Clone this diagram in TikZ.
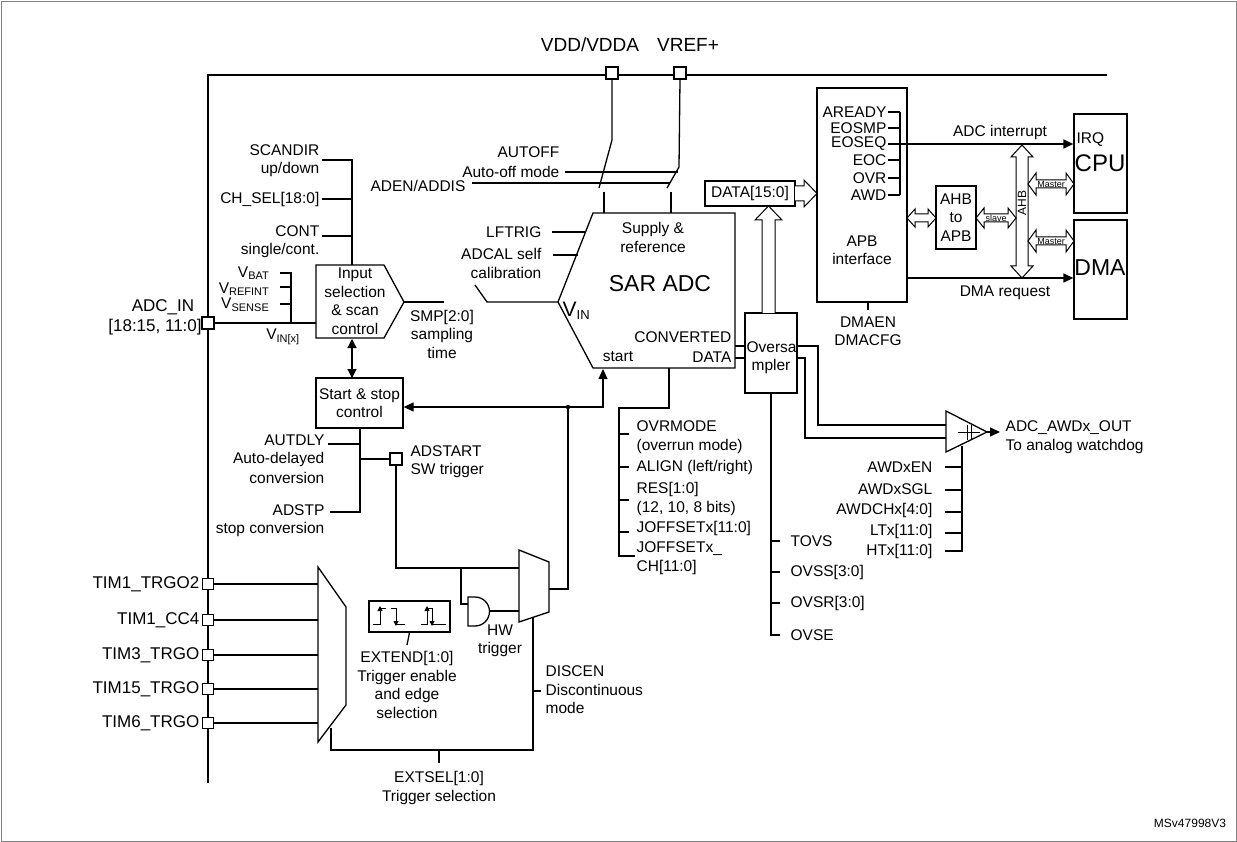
\documentclass[tikz,border=0pt]{standalone}
\usepackage{fontspec}
\setmainfont{Liberation Sans}
\usetikzlibrary{arrows.meta}
\begin{document}
\begin{tikzpicture}[x=1pt,y=-1pt,line width=1.3pt,
  t/.style={font=\fontsize{15.5}{18.5}\selectfont,inner sep=0pt,align=center},
  tl/.style={t,anchor=west,align=left},
  tr/.style={t,anchor=east,align=right},
  pad/.style={draw,fill=white,minimum size=12pt,inner sep=0pt},
  bus/.style={line width=2.6pt},
  arr/.style={-{Triangle[length=10pt,width=9pt]}},
  hol/.style={draw,fill=white,line width=1pt}]
\useasboundingbox (0,0) rectangle (1237,842);
\draw[line width=0.8pt,gray] (1,1) rectangle (1236,841);
% buses
\draw[bus] (208,783) -- (208,75) -- (1107,75);
\node[pad] (pvdd) at (612,73) {};
\node[pad] (pvref) at (680,73) {};
\node[t,font=\fontsize{19}{21}\selectfont] (lvdd) at (590,45) {VDD/VDDA};
\node[t,font=\fontsize{19}{21}\selectfont] (lvref) at (688,45) {VREF+};
% supply switches
\draw (pvdd.south) -- (612,140) -- (599,188);
\draw (604,192) -- (604,213);
\draw (pvref.south) -- (679,167) -- (667,188);
\draw (671,192) -- (671,213);
\draw (565,172) -- (678,172);
\draw (472,183) -- (670,183);
\node[tr] (autoff) at (560,152) {AUTOFF};
\node[tr] (autoffm) at (560,172) {Auto-off mode};
\node[tr] (aden) at (466,186) {ADEN/ADDIS};
% SAR ADC
\draw (593,213) -- (735,213) -- (735,368) -- (593,368) -- (558,302) -- cycle;
\node[t] (sup) at (653,229) {Supply \&};
\node[t] (ref) at (653,247) {reference};
\node[t,font=\fontsize{23}{25}\selectfont] (sar) at (660,284) {SAR ADC};
\node[t,font=\fontsize{21}{23}\selectfont,anchor=west] (vin) at (562,311) {V\textsubscript{\fontsize{13}{13}\selectfont IN}};
\node[tr] (conv) at (732,337) {CONVERTED};
\node[tr] (cdata) at (732,357) {DATA};
\node[t] (start) at (618,357) {start};
\draw (552,232) -- (586,232);
\node[tr] (lftrig) at (542,232) {LFTRIG};
\draw (553,255) -- (578,255);
\node[tr] (adcal) at (542,254) {ADCAL self};
\node[tr] (cal) at (542,273) {calibration};
\draw (475,285) -- (487,302) -- (558,302);
% left side config
\node[pad] (padin) at (208,323) {};
\node[t,font=\fontsize{17}{19}\selectfont] (adcin) at (163,307) {ADC\_IN};
\node[t,font=\fontsize{17}{19}\selectfont] (adcin2) at (155,327) {[18:15, 11:0]};
\draw (316,265) -- (384,265) -- (404,302) -- (384,338) -- (316,338) -- cycle;
\node[t] (insel) at (355,301) {Input\\selection\\\& scan\\control};
\draw (padin.east) -- (316,323);
\draw (280,273) -- (291,273) -- (291,323);
\draw (280,287) -- (291,287);
\draw (280,304) -- (291,304);
\newcommand{\sbs}[1]{\textsubscript{\fontsize{11}{11}\selectfont #1}}
\node[tr] (vbat) at (270,273) {V\sbs{BAT}};
\node[tr] (vrefint) at (270,289) {V\sbs{REFINT}};
\node[tr] (vsense) at (270,305) {V\sbs{SENSE}};
\node[t] (vinx) at (283,337) {V\sbs{IN[x]}};
\draw (322,160) -- (352,160) -- (352,265);
\draw (322,199) -- (352,199);
\draw (322,236) -- (352,236);
\node[tr] (scandir) at (320,150) {SCANDIR};
\node[tr] (updown) at (320,169) {up/down};
\node[tr] (chsel) at (320,199) {CH\_SEL[18:0]};
\node[tr] (cont) at (320,231) {CONT};
\node[tr] (single) at (320,250) {single/cont.};
\draw (404,302) -- (444,302);
\node[t] (smp) at (442,334) {SMP[2:0]\\sampling\\time};
% start & stop
\node[draw,minimum width=87pt,minimum height=50pt,inner sep=0pt,align=center,font=\fontsize{15.5}{18.5}\selectfont] (ss) at (359.5,403) {Start \& stop\\control};
\draw[{Triangle[length=9pt,width=9pt]}-{Triangle[length=9pt,width=9pt]}] (352,339) -- (352,378);
\coordinate (dot) at (568,407);
\draw[arr] (dot) -- (ss.east|-dot);
\draw[arr] (dot) -- (603,407) -- (603,369);
\fill (dot) circle (2.2pt);
\draw (360,428) -- (360,512) -- (330,512);
\draw (328,444) -- (360,444);
\node[pad] (adstart) at (396,459) {};
\draw (360,459) -- (adstart.west);
\node[tr] (autdly) at (325,440) {AUTDLY};
\node[tr] (autdly2) at (325,459) {Auto-delayed};
\node[tr] (autdly3) at (325,478) {conversion};
\node[tr] (adstp) at (325,510) {ADSTP};
\node[tr] (adstp2) at (325,529) {stop conversion};
\node[tl] (adsl) at (410,451) {ADSTART};
\node[tl] (adsl2) at (410,470) {SW trigger};
% mux 2
\draw (519,550) -- (549,562) -- (549,612) -- (519,622) -- cycle;
\draw (adstart.south) -- (396,568) -- (519,568);
\draw (461,568) -- (461,604) -- (468,604);
\draw (468,597) -- (475,597) arc (-90:90:14.5) -- (468,626) -- cycle;
\draw (489.5,611) -- (519,611);
\draw (549,589) -- (568,589) -- (dot);
\node[t] (hw) at (500,641) {HW\\trigger};
% mux 1
\draw (318,567) -- (346,607) -- (346,705) -- (318,742) -- cycle;
\foreach \y/\n in {584/TIM1\_TRGO2,620/TIM1\_CC4,655/TIM3\_TRGO,689/TIM15\_TRGO,723/TIM6\_TRGO}{
  \node[pad,minimum size=11pt] (p\y) at (208,\y) {};
  \draw (p\y.east) -- (318,\y);
  \node[tr,font=\fontsize{17}{19}\selectfont] (l\y) at (200,\y) {\n};
}
\draw (533,617) -- (533,750) -- (331,750) -- (331,728);
\draw (533,691) -- (541,691);
\draw (439,750) -- (439,763);
\node[tl] (discen) at (545,690) {DISCEN\\Discontinuous\\mode};
\node[t] (extsel) at (439,788) {EXTSEL[1:0]\\Trigger selection};
% EXTEND box
\node[draw,minimum width=81pt,minimum height=31pt,inner sep=0pt] (ext) at (409.5,616.5) {};
\begin{scope}[line width=0.9pt]
\draw (373,624) -- (380,624) -- (380,608) -- (386,608);
\draw[-{Triangle[length=5pt,width=5pt]}] (380,622) -- (380,606);
\draw (391,608) -- (396,608) -- (396,624) -- (405,624);
\draw[-{Triangle[length=5pt,width=5pt]}] (396,610) -- (396,626);
\draw (421,624) -- (427,624) -- (427,608) -- (432,608) -- (432,624) -- (446,624);
\draw[-{Triangle[length=5pt,width=5pt]}] (427,622) -- (427,606);
\draw[-{Triangle[length=5pt,width=5pt]}] (432,610) -- (432,626);
\end{scope}
\draw (ext.south) -- (407,645);
\node[t] (extend) at (407,685) {EXTEND[1:0]\\Trigger enable\\and edge\\selection};
% bottom of SAR config
\draw (669,368) -- (669,408) -- (619,408) -- (619,556) -- (635,556);
\foreach \y in {434,467,500,532} \draw (619,\y) -- (629,\y);
\node[tl] (ovr) at (636,437) {OVRMODE\\(overrun mode)};
\node[tl] (align) at (636,467) {ALIGN (left/right)};
\node[tl] (res) at (636,499) {RES[1:0]\\(12, 10, 8 bits)};
\node[tl] (joff) at (636,528) {JOFFSETx[11:0]};
\node[tl] (joff2) at (636,558) {JOFFSETx\_\\CH[11:0]};
% oversampler
\node[draw,minimum width=52pt,minimum height=80pt,inner sep=0pt] (ovs) at (771,353) {};
\node[t,anchor=west] (ovst) at (746,347) {Oversa};
\node[t] (ovst2) at (771,366) {mpler};
\draw (735,346) -- (745,346);
\draw (735,358) -- (745,358);
\draw (771,393) -- (771,635) -- (780,635);
\foreach \y in {541,572,603} \draw (771,\y) -- (780,\y);
\node[tl] (tovs) at (790,541) {TOVS};
\node[tl] (ovss) at (790,572) {OVSS[3:0]};
\node[tl] (ovsr) at (790,603) {OVSR[3:0]};
\node[tl] (ovse) at (790,635) {OVSE};
\draw (797,346) -- (818,346) -- (818,425) -- (946,425);
\draw (797,358) -- (805,358) -- (805,438) -- (946,438);
% comparator
\draw (946,411) -- (987,432) -- (946,452) -- cycle;
\draw[line width=0.9pt] (958,432) -- (980,432) (967,425) -- (967,440) (971,425) -- (971,440);
\coordinate (awdo) at (1000,432);
\draw[arr] (987,432) -- (awdo);
\node[tl] (awdl) at (1005,437) {ADC\_AWDx\_OUT\\To analog watchdog};
\draw (962,446) -- (962,551) -- (945,551);
\foreach \y in {467,490,512,533} \draw (945,\y) -- (962,\y);
\node[tr] (awden) at (933,467) {AWDxEN};
\node[tr] (awdsgl) at (933,489) {AWDxSGL};
\node[tr] (awdch) at (933,510) {AWDCHx[4:0]};
\node[tr] (ltx) at (933,531) {LTx[11:0]};
\node[tr] (htx) at (933,551) {HTx[11:0]};
% DATA box & arrows
\node[draw,minimum width=90pt,minimum height=25pt,inner sep=0pt,font=\fontsize{15.5}{18}\selectfont] (data) at (750,193.5) {DATA[15:0]};
\draw[hol] (762,313) -- (762,220) -- (755,220) -- (768.5,206) -- (782,220) -- (775,220) -- (775,313);
\draw[hol] (795,186) -- (804,186) -- (804,180) -- (817,193.5) -- (804,207) -- (804,201) -- (795,201);
% APB
\node[draw,minimum width=90pt,minimum height=214pt,inner sep=0pt] (apb) at (862,195) {};
\node[t] (apbt) at (862,250) {APB\\interface};
\foreach \y/\n in {112/AREADY,128/EOSMP,144/EOSEQ,160/EOC,178/OVR,195/AWD}{
  \node[tr] (f\n) at (887,\y) {\n};
  \draw (888,\y) -- (900,\y);
}
\draw (900,112) -- (900,195);
\draw (868,302) -- (868,310);
\node[t] (dmaen) at (868,331) {DMAEN\\DMACFG};
% CPU / DMA
\node[draw,minimum width=53pt,minimum height=99pt,inner sep=0pt] (cpu) at (1100.5,163.5) {};
\node[draw,minimum width=53pt,minimum height=99pt,inner sep=0pt] (dma) at (1100.5,269.5) {};
\node[t,font=\fontsize{24}{26}\selectfont] (cput) at (1100,163) {CPU};
\node[t,font=\fontsize{23}{25}\selectfont] (dmat) at (1100,268) {DMA};
\node[tl] (irq) at (1076,140) {IRQ};
\draw[arr] (900,144) -- (cpu.west|-0,144);
\node[t] (adcint) at (1000,132) {ADC interrupt};
\draw[arr] (apb.east|-0,278) -- (dma.west|-0,278);
\node[t] (dmareq) at (1005,293) {DMA request};
\node[draw,minimum width=40pt,minimum height=63pt,inner sep=0pt,align=center,font=\fontsize{15.5}{18.5}\selectfont] (ahb) at (956,217.5) {AHB\\to\\APB};
% AHB vertical hollow double arrow
\draw[hol] (1016,157) -- (1016,266) -- (1011,266) -- (1022,278) -- (1033,266) -- (1028,266) -- (1028,157) -- (1033,157) -- (1022,145) -- (1011,157) -- cycle;
\node[t,rotate=90,font=\fontsize{12}{12}\selectfont] (ahbl) at (1022,203) {AHB};
% horizontal hollow double arrows
\newcommand{\hdar}[5]{\draw[hol] (#1+8,#3-4) -- (#2-8,#3-4) -- (#2-8,#3-#4) -- (#2,#3) -- (#2-8,#3+#4) -- (#2-8,#3+4) -- (#1+8,#3+4) -- (#1+8,#3+#4) -- (#1,#3) -- (#1+8,#3-#4) -- cycle; #5}
\hdar{907}{936}{218}{9}{}
\hdar{976}{1016}{218}{10}{\node[t,font=\fontsize{9}{9}\selectfont] (slv) at (996,218) {slave};}
\hdar{1028}{1074}{184}{11}{\node[t,font=\fontsize{9}{9}\selectfont] (m1) at (1051,184) {Master};}
\hdar{1028}{1074}{241}{11}{\node[t,font=\fontsize{9}{9}\selectfont] (m2) at (1051,241) {Master};}
\node[t,font=\fontsize{12}{12}\selectfont] (ms) at (1190,823) {MSv47998V3};
\end{tikzpicture}
\end{document}
